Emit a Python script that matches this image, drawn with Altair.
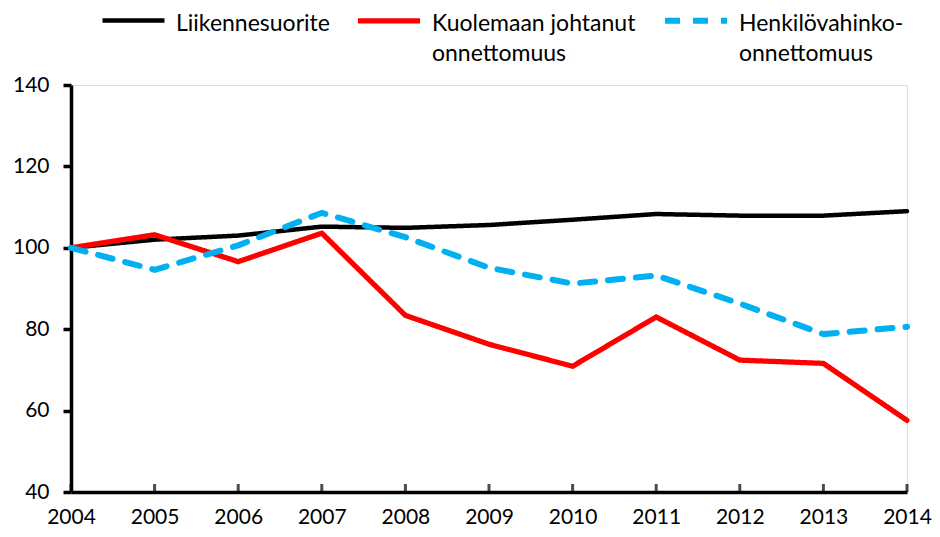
import altair as alt
import pandas as pd

years = [2004, 2005, 2006, 2007, 2008, 2009, 2010, 2011, 2012, 2013, 2014]
liikennesuorite = [100, 102.0, 103.0, 105.2, 104.9, 105.6, 106.9, 108.3, 107.9, 107.9, 109.0]
kuolemaan = [100, 103.2, 96.6, 103.6, 83.4, 76.3, 70.9, 83.0, 72.4, 71.6, 57.6]
henkilo = [100, 94.6, 100.6, 108.6, 102.6, 95.1, 91.2, 93.2, 86.3, 78.8, 80.6]

series_names = ["Liikennesuorite|", "Kuolemaan johtanut|onnettomuus", "Henkilövahinko-|onnettomuus"]
series_colors = ["#000000", "#FF0000", "#00B0F0"]
series_dash = [[1, 0], [1, 0], [15, 13]]
series_width = [4.5, 6, 6]
y_ticks = [40, 60, 80, 100, 120, 140]

rows = []
for name, vals in zip(series_names, [liikennesuorite, kuolemaan, henkilo]):
    for i, (yr, v) in enumerate(zip(years, vals)):
        rows.append({"year": yr, "value": v, "series": name, "order": i})
df = pd.DataFrame(rows)
ticks_df = pd.DataFrame({"year": years})

FONT = "Lato"

legend = alt.Legend(
    title=None,
    orient="none",
    direction="horizontal",
    legendX=29,
    legendY=-88,
    labelExpr="split(datum.label, '|')",
    labelFont=FONT,
    labelFontSize=23,
    labelColor="#000000",
    labelLimit=400,
    labelBaseline="alphabetic",
    labelOffset=9,
    symbolType="M-1,-0.33L1,-0.33",
    symbolSize=3844,
    symbolStrokeWidth=5.5,
    columnPadding=17,
)

x_scale = alt.Scale(domain=[2004, 2014], nice=False, zero=False)
y_scale = alt.Scale(domain=[40, 140], nice=False, zero=False)

lines = alt.Chart(df).mark_line(strokeCap="round").encode(
    x=alt.X("year:Q", scale=x_scale,
            axis=alt.Axis(title=None, values=years, format="d", ticks=False,
                          grid=False, domainColor="#000000", domainWidth=3.5,
                          labelFont=FONT, labelFontSize=21, labelColor="#000000",
                          labelPadding=14, labelFlush=False)),
    y=alt.Y("value:Q", scale=y_scale,
            axis=alt.Axis(title=None, values=y_ticks, tickSize=8, tickWidth=3.5,
                          tickColor="#000000", domainColor="#000000", domainWidth=3.5,
                          gridColor="#888888", gridWidth=1.5, gridDash=[7, 5],
                          labelFont=FONT, labelFontSize=21, labelColor="#000000",
                          labelPadding=14)),
    color=alt.Color("series:N", sort=series_names,
                    scale=alt.Scale(domain=series_names, range=series_colors),
                    legend=legend),
    strokeDash=alt.StrokeDash("series:N", sort=series_names,
                              scale=alt.Scale(domain=series_names, range=series_dash),
                              legend=legend),
    strokeWidth=alt.StrokeWidth("series:N", sort=series_names,
                                scale=alt.Scale(domain=series_names, range=series_width),
                                legend=None),
    order="order:Q",
)

xticks = alt.Chart(ticks_df).mark_tick(
    orient="vertical", color="#000000", thickness=3, size=8, yOffset=-4
).encode(
    x=alt.X("year:Q", scale=x_scale),
    y=alt.datum(40, scale=y_scale),
)

chart = alt.layer(xticks, lines).properties(
    width=836,
    height=407,
    autosize=alt.AutoSizeParams(type="none"),
    padding={"left": 63, "top": 77, "right": 25, "bottom": 35},
).configure_view(
    stroke="#000000", strokeWidth=1.5
).configure(
    background="#ffffff",
    style={"guide-label": {"lineHeight": 30}},
)

chart.save("out.html", embed_options={"renderer": "svg", "actions": False})
